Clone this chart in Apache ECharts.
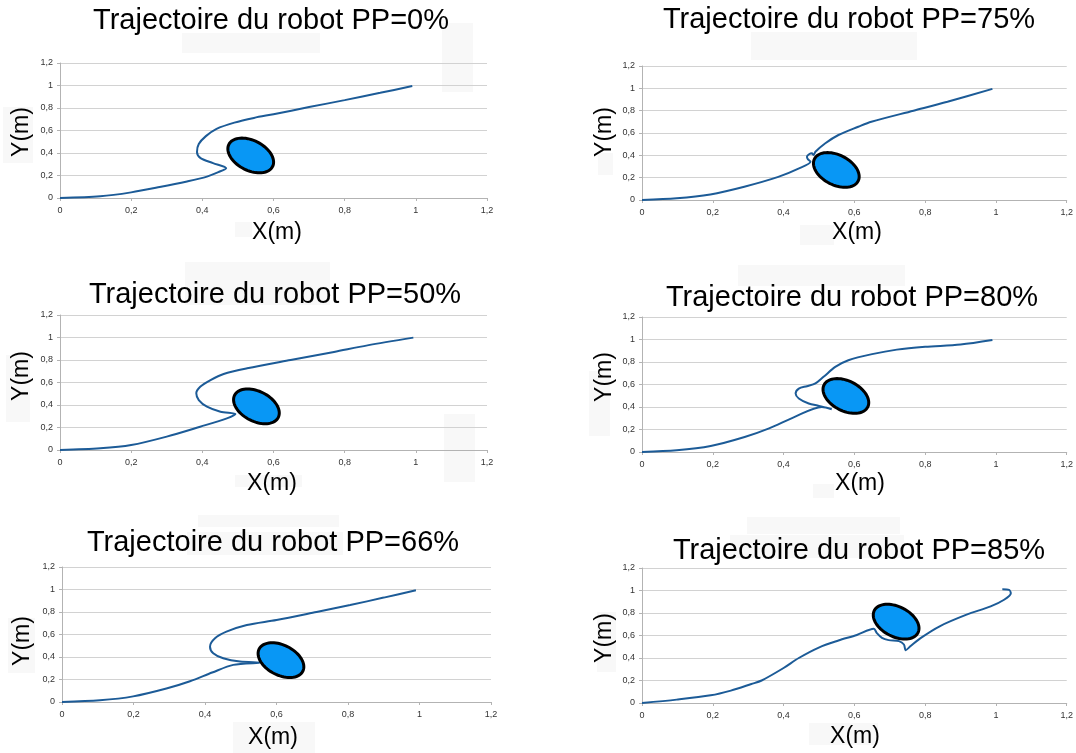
<!DOCTYPE html>
<html>
<head>
<meta charset="utf-8">
<script src="https://cdn.jsdelivr.net/npm/echarts@6/dist/echarts.min.js"></script>
<style>
html, body { margin: 0; background: #fff; }
#chart { width: 1076px; height: 753px; }
</style>
</head>
<body>
<div id="chart"></div>
<script>
// titres des 6 essais (ordre : haut-gauche, haut-droite, milieu-gauche, ...)
const titles = [
    'Trajectoire du robot PP=0%',
    'Trajectoire du robot PP=75%',
    'Trajectoire du robot PP=50%',
    'Trajectoire du robot PP=80%',
    'Trajectoire du robot PP=66%',
    'Trajectoire du robot PP=85%'
];

// trajectoires X(m) / Y(m)
const pp0X = [0, 0.113, 0.2, 0.28, 0.357, 0.413, 0.445, 0.467, 0.43, 0.395, 0.385, 0.39, 0.41, 0.44, 0.49, 0.545, 0.6, 0.7, 0.8, 0.9, 0.99];
const pp0Y = [0, 0.015, 0.05, 0.097, 0.147, 0.19, 0.23, 0.265, 0.31, 0.355, 0.41, 0.48, 0.55, 0.615, 0.67, 0.712, 0.745, 0.808, 0.87, 0.935, 0.995];

const pp75X = [0, 0.098, 0.193, 0.289, 0.385, 0.442, 0.476, 0.469, 0.466, 0.473, 0.48, 0.485, 0.49, 0.518, 0.555, 0.611, 0.648, 0.767, 0.863, 0.99];
const pp75Y = [0, 0.015, 0.05, 0.119, 0.207, 0.281, 0.343, 0.364, 0.388, 0.412, 0.418, 0.403, 0.432, 0.508, 0.582, 0.656, 0.701, 0.8, 0.88, 0.995];

const pp50X = [0, 0.113, 0.2, 0.3, 0.394, 0.469, 0.493, 0.451, 0.413, 0.39, 0.383, 0.394, 0.423, 0.46, 0.526, 0.648, 0.77, 0.864, 0.993];
const pp50Y = [0, 0.015, 0.044, 0.119, 0.207, 0.281, 0.32, 0.34, 0.385, 0.444, 0.504, 0.563, 0.622, 0.676, 0.726, 0.8, 0.872, 0.93, 0.999];

const pp80X = [0, 0.098, 0.194, 0.29, 0.359, 0.43, 0.508, 0.536, 0.5, 0.471, 0.443, 0.434, 0.443, 0.466, 0.49, 0.513, 0.546, 0.583, 0.65, 0.72, 0.8, 0.9, 0.99];
const pp80Y = [0, 0.015, 0.053, 0.133, 0.21, 0.31, 0.401, 0.38, 0.41, 0.431, 0.476, 0.52, 0.564, 0.585, 0.609, 0.668, 0.756, 0.816, 0.87, 0.91, 0.935, 0.955, 0.995];

const pp66X = [0, 0.106, 0.199, 0.292, 0.358, 0.42, 0.479, 0.554, 0.498, 0.451, 0.423, 0.414, 0.428, 0.46, 0.517, 0.6, 0.712, 0.806, 0.9, 0.99];
const pp66Y = [0, 0.015, 0.05, 0.12, 0.185, 0.262, 0.33, 0.35, 0.359, 0.389, 0.434, 0.492, 0.566, 0.625, 0.684, 0.728, 0.8, 0.862, 0.928, 0.994];

const pp85X = [0, 0.098, 0.194, 0.251, 0.309, 0.338, 0.4, 0.443, 0.501, 0.555, 0.607, 0.655, 0.663, 0.678, 0.697, 0.726, 0.74, 0.745, 0.759, 0.788, 0.841, 0.917, 0.985, 1.023, 1.042, 1.037, 1.018];
const pp85Y = [0, 0.03, 0.068, 0.11, 0.169, 0.2, 0.311, 0.4, 0.495, 0.555, 0.605, 0.66, 0.624, 0.579, 0.559, 0.55, 0.52, 0.47, 0.506, 0.579, 0.682, 0.785, 0.859, 0.918, 0.976, 1.006, 1.012];

// centre de l'obstacle dans chaque essai
const obstacleX = [0.536, 0.549, 0.552, 0.576, 0.6125, 0.718];
const obstacleY = [0.378, 0.269, 0.388, 0.498, 0.372, 0.723];

const trajX = [pp0X, pp75X, pp50X, pp80X, pp66X, pp85X];
const trajY = [pp0Y, pp75Y, pp50Y, pp80Y, pp66Y, pp85Y];

// position des graphes (px)
const grids = [
    { left: 60, top: 63, width: 427, height: 135 },
    { left: 642, top: 66, width: 428, height: 134 },
    { left: 60, top: 315, width: 427, height: 135 },
    { left: 642, top: 317, width: 428, height: 135 },
    { left: 62, top: 567, width: 429, height: 135 },
    { left: 642, top: 568, width: 428, height: 135 }
];
const titlePos = [[271, 21], [849, 20], [275, 295], [852, 298], [273, 543], [859, 551]];
const xNamePos = [[277, 233], [857, 233], [272, 484], [860, 484], [273, 738], [855, 737]];
const yNamePos = [[22, 132], [605, 132], [22, 376], [605, 377], [23, 641], [605, 638]];

// petites zones grises (caches) visibles sur l'image
const patches = [
    [182, 33, 138, 20], [442, 23, 31, 69], [235, 222, 17, 15], [3, 107, 30, 56],
    [751, 32, 166, 28], [598, 153, 15, 22], [800, 225, 34, 20],
    [185, 262, 145, 43], [6, 355, 24, 67], [235, 475, 67, 12], [444, 414, 31, 68],
    [738, 265, 167, 21], [589, 371, 21, 65], [813, 484, 21, 14],
    [198, 515, 141, 12], [187, 532, 156, 23], [8, 618, 27, 55], [233, 722, 82, 31],
    [747, 517, 153, 17], [730, 535, 174, 23], [597, 612, 19, 60], [809, 723, 69, 22]
];

const FONT = '"Liberation Sans", Arial, sans-serif';
const LINE_COLOR = '#1c5b97';
const fmt = v => String(+v.toFixed(1)).replace('.', ',');

var chart = echarts.init(document.getElementById('chart'));

var gridList = [], xAxes = [], yAxes = [], series = [], graphics = [];

grids.forEach((g, i) => {
    gridList.push(Object.assign({ containLabel: false }, g));
    xAxes.push({
        gridIndex: i, type: 'value', min: 0, max: 1.2, interval: 0.2,
        axisLine: { lineStyle: { color: '#b3b3b3' } },
        axisTick: { show: true, length: 3, lineStyle: { color: '#b3b3b3' } },
        axisLabel: { fontSize: 9, color: '#333', fontFamily: FONT, margin: 8, formatter: fmt },
        splitLine: { show: false }
    });
    yAxes.push({
        gridIndex: i, type: 'value', min: 0, max: 1.2, interval: 0.2,
        axisLine: { show: true, lineStyle: { color: '#b3b3b3' } },
        axisTick: { show: true, length: 3, lineStyle: { color: '#b3b3b3' } },
        axisLabel: { fontSize: 9, color: '#333', fontFamily: FONT, margin: 7, formatter: fmt },
        splitLine: { show: true, lineStyle: { color: '#d2d2d2' } }
    });

    let pts = trajX[i].map((x, k) => [x, trajY[i][k]]);
    series.push({
        type: 'line', xAxisIndex: i, yAxisIndex: i,
        data: pts, showSymbol: false, symbol: 'none', smooth: 0.3,
        lineStyle: { color: LINE_COLOR, width: 2 },
        clip: false, z: 2
    });
    // obstacle (ellipse inclinée)
    series.push({
        type: 'custom', xAxisIndex: i, yAxisIndex: i, z: 5, clip: false,
        data: [[obstacleX[i], obstacleY[i]]],
        renderItem: function (params, api) {
            var c = api.coord([api.value(0), api.value(1)]);
            var a = 24.5, b = 15, th = 27 * Math.PI / 180;
            var points = [];
            for (var t = 0; t < 72; t++) {
                var ang = t / 72 * Math.PI * 2;
                var ex = a * Math.cos(ang), ey = b * Math.sin(ang);
                points.push([c[0] + ex * Math.cos(th) - ey * Math.sin(th), c[1] + ex * Math.sin(th) + ey * Math.cos(th)]);
            }
            return {
                type: 'polygon', shape: { points: points },
                style: { fill: '#0897f5', stroke: '#000', lineWidth: 3 }
            };
        }
    });

    graphics.push({
        type: 'text', x: titlePos[i][0], y: titlePos[i][1], z: 10,
        style: { text: titles[i], fill: '#000', font: '29px ' + FONT, textAlign: 'center', textVerticalAlign: 'middle' }
    });
    graphics.push({
        type: 'text', x: xNamePos[i][0], y: xNamePos[i][1], z: 10,
        style: { text: 'X(m)', fill: '#000', font: '23px ' + FONT, textAlign: 'center', textVerticalAlign: 'middle' }
    });
    graphics.push({
        type: 'text', x: yNamePos[i][0], y: yNamePos[i][1], rotation: Math.PI / 2, z: 10,
        style: { text: 'Y(m)', fill: '#000', font: '23px ' + FONT, textAlign: 'center', textVerticalAlign: 'middle' }
    });
});

patches.forEach(p => {
    graphics.push({
        type: 'rect', z: -1, shape: { x: p[0], y: p[1], width: p[2], height: p[3] },
        style: { fill: '#f8f8f8' }
    });
});

var option = {
    backgroundColor: '#fff',
    animation: false,
    grid: gridList,
    xAxis: xAxes,
    yAxis: yAxes,
    series: series,
    graphic: graphics
};
option && chart.setOption(option);
</script>
</body>
</html>
